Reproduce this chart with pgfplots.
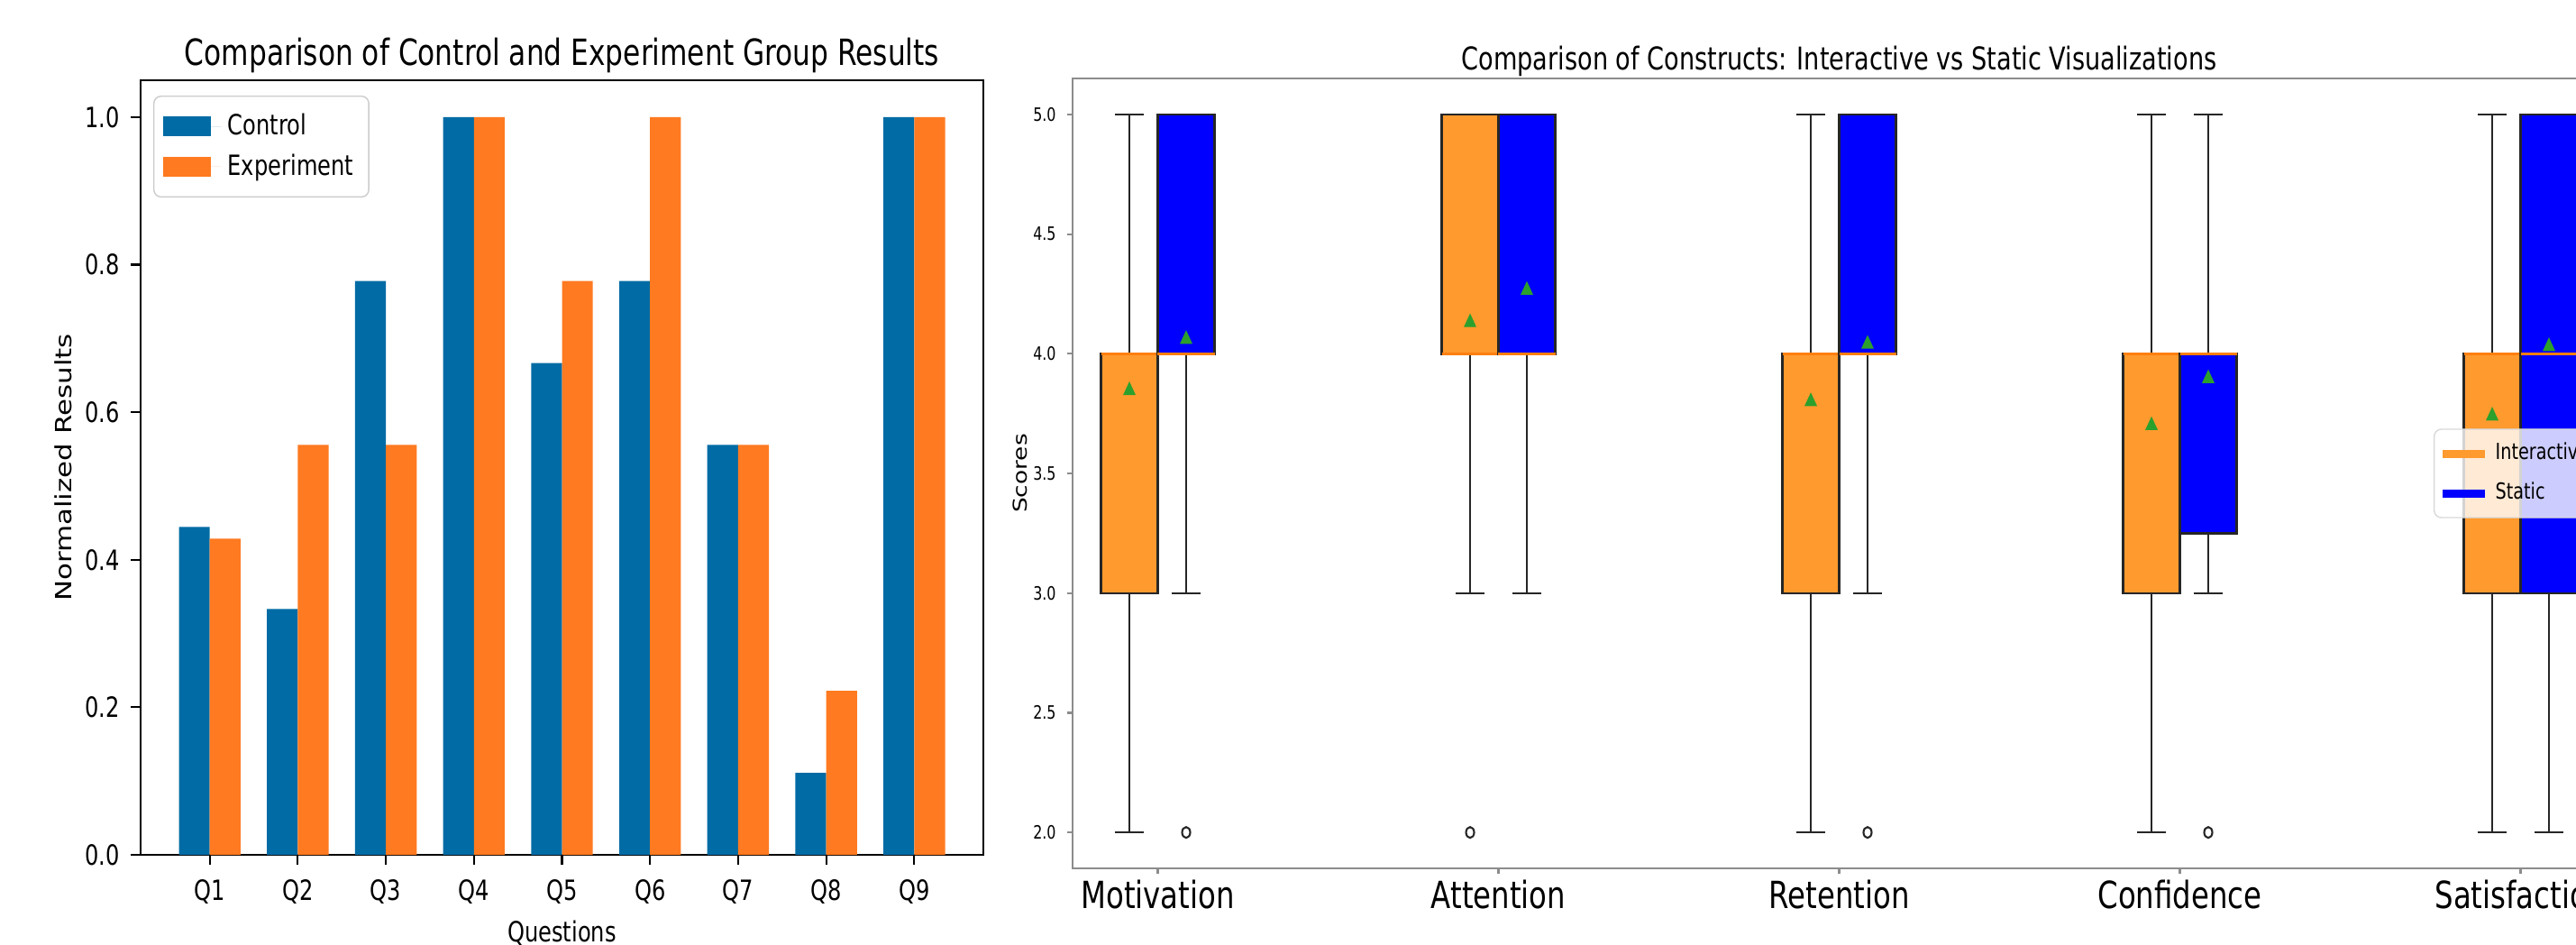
\documentclass[border=0pt]{standalone}
\usepackage{fontspec}
\setmainfont{DejaVu Sans}[FakeStretch=0.78]
\newfontfamily\rotfont{DejaVu Sans}
\usepackage{graphicx}
\usepackage{pgfplots}
\pgfplotsset{compat=1.18}
\usepgfplotslibrary{statistics}
\definecolor{ctrl}{HTML}{006BA4}
\definecolor{expc}{HTML}{FF7A20}
\definecolor{orI}{HTML}{FF9A2E}
\definecolor{blS}{HTML}{0000FF}
\definecolor{meanc}{HTML}{2CA02C}
\definecolor{medc}{HTML}{FF7F0E}
\definecolor{spine}{HTML}{8C8C8C}
\pgfplotsset{
  boxI/.style={draw=black!85, fill=orI, line width=0.7pt, forget plot,
    boxplot/draw direction=y,
    boxplot/every median/.style={draw=medc, line width=0.7pt}},
  boxS/.style={draw=black!85, fill=blS, line width=0.7pt, forget plot,
    boxplot/draw direction=y,
    boxplot/every median/.style={draw=medc, line width=0.7pt}},
  onedec/.style={/pgf/number format/fixed, /pgf/number format/fixed zerofill,
    /pgf/number format/precision=1, /pgf/number format/assume math mode=true},
}
\begin{document}
\begin{tikzpicture}
\useasboundingbox (0,0) rectangle (285.8mm,104.7mm);
\clip (0,0) rectangle (285.8mm,104.7mm);
% ---------------- left bar chart ----------------
\begin{axis}[
  at={(15.6mm,9.9mm)}, anchor=south west, scale only axis,
  width=93.5mm, height=85.9mm,
  xmin=-0.785, xmax=8.785, ymin=0, ymax=1.05,
  ybar, bar width=0.35,
  xtick={0,1,2,3,4,5,6,7,8},
  xticklabels={Q1,Q2,Q3,Q4,Q5,Q6,Q7,Q8,Q9},
  ytick={0,0.2,0.4,0.6,0.8,1.0},
  yticklabel style={onedec},
  xticklabel style={yshift=-0.4mm},
  tick pos=left,
  tick align=outside, major tick length=1.1mm,
  tick style={black, line width=0.6pt},
  axis line style={black, line width=0.8pt},
  ticklabel style={font=\fontsize{8.8}{10}\selectfont},
  title={Comparison of Control and Experiment Group Results},
  every axis title/.style={font=\fontsize{11.4}{13}\selectfont, at={(0.5,1)}, anchor=base, yshift=1.7mm},
  xlabel={Questions},
  xlabel style={font=\fontsize{8.8}{10}\selectfont, yshift=0.6mm},
  ylabel={\rotfont\scalebox{1}[0.8]{Normalized Results}},
  ylabel style={font=\fontsize{8.8}{10}\selectfont, at={(axis description cs:-0.092,0.5)}, anchor=center},
  legend style={at={(0,1)}, anchor=north west, xshift=1.4mm, yshift=-1.7mm,
    draw=black!20, rounded corners=0.8mm, font=\fontsize{8.8}{10}\selectfont,
    row sep=0.2mm, inner xsep=1mm, inner ysep=1.2mm},
  legend cell align=left,
]
\addplot[fill=ctrl, draw=none, bar shift=-0.175,
  legend image code/.code={\fill[ctrl, sharp corners] (0mm,-1.1mm) rectangle (5.3mm,1.1mm); \path (0mm,0mm) -- (6.5mm,0mm);}]
  coordinates {(0,0.4444) (1,0.3333) (2,0.7778) (3,1.0) (4,0.6667) (5,0.7778) (6,0.5556) (7,0.1111) (8,1.0)};
\addlegendentry{Control}
\addplot[fill=expc, draw=none, bar shift=0.175,
  legend image code/.code={\fill[expc, sharp corners] (0mm,-1.1mm) rectangle (5.3mm,1.1mm); \path (0mm,0mm) -- (6.5mm,0mm);}]
  coordinates {(0,0.4286) (1,0.5556) (2,0.5556) (3,1.0) (4,0.7778) (5,1.0) (6,0.5556) (7,0.2222) (8,1.0)};
\addlegendentry{Experiment}
\end{axis}
% ---------------- right box plot ----------------
\begin{axis}[
  at={(119mm,8.4mm)}, anchor=south west, scale only axis,
  width=170.1mm, height=87.6mm,
  xmin=-0.25, xmax=4.25, ymin=1.85, ymax=5.15,
  xtick={0,1,2,3,4},
  xticklabels={Motivation,Attention,Retention,Confidence,Satisfaction},
  ytick={2,2.5,3,3.5,4,4.5,5},
  xticklabel style={font=\fontsize{11.8}{13}\selectfont, yshift=0.5mm},
  yticklabel style={font=\fontsize{5.8}{7}\selectfont, onedec},
  tick pos=left,
  tick align=outside, major tick length=0.6mm,
  tick style={spine, line width=0.6pt},
  axis line style={spine, line width=0.8pt},
  title={Comparison of Constructs: Interactive vs Static Visualizations},
  every axis title/.style={font=\fontsize{9.9}{11}\selectfont, at={(0.5,1)}, anchor=base, yshift=1.0mm},
  ylabel={\rotfont\scalebox{1}[0.8]{Scores}},
  ylabel style={font=\fontsize{7.5}{9}\selectfont, at={(axis description cs:-0.034,0.5)}, anchor=center},
  legend style={at={(0.8877,0.5)}, anchor=west,
    draw=black!15, rounded corners=0.8mm, fill=white, fill opacity=0.8, draw opacity=1, text opacity=1,
    font=\fontsize{7}{8}\selectfont, row sep=0.6mm, inner xsep=0.5mm, inner ysep=0.8mm},
  legend cell align=left,
]
% Motivation
\addplot[boxI, boxplot prepared={draw position=-0.0833, lower whisker=2, lower quartile=3, median=4, upper quartile=4, upper whisker=5, box extend=0.1667, whisker extend=0.0833}] coordinates {};
\addplot[boxS, boxplot prepared={draw position=0.0833, lower whisker=3, lower quartile=4, median=4, upper quartile=5, upper whisker=5, box extend=0.1667, whisker extend=0.0833}] coordinates {};
% Attention
\addplot[boxI, boxplot prepared={draw position=0.9167, lower whisker=3, lower quartile=4, median=4, upper quartile=5, upper whisker=5, box extend=0.1667, whisker extend=0.0833}] coordinates {};
\addplot[boxS, boxplot prepared={draw position=1.0833, lower whisker=3, lower quartile=4, median=4, upper quartile=5, upper whisker=5, box extend=0.1667, whisker extend=0.0833}] coordinates {};
% Retention
\addplot[boxI, boxplot prepared={draw position=1.9167, lower whisker=2, lower quartile=3, median=4, upper quartile=4, upper whisker=5, box extend=0.1667, whisker extend=0.0833}] coordinates {};
\addplot[boxS, boxplot prepared={draw position=2.0833, lower whisker=3, lower quartile=4, median=4, upper quartile=5, upper whisker=5, box extend=0.1667, whisker extend=0.0833}] coordinates {};
% Confidence
\addplot[boxI, boxplot prepared={draw position=2.9167, lower whisker=2, lower quartile=3, median=4, upper quartile=4, upper whisker=5, box extend=0.1667, whisker extend=0.0833}] coordinates {};
\addplot[boxS, boxplot prepared={draw position=3.0833, lower whisker=3, lower quartile=3.25, median=4, upper quartile=4, upper whisker=5, box extend=0.1667, whisker extend=0.0833}] coordinates {};
% Satisfaction
\addplot[boxI, boxplot prepared={draw position=3.9167, lower whisker=2, lower quartile=3, median=4, upper quartile=4, upper whisker=5, box extend=0.1667, whisker extend=0.0833}] coordinates {};
\addplot[boxS, boxplot prepared={draw position=4.0833, lower whisker=2, lower quartile=3, median=4, upper quartile=5, upper whisker=5, box extend=0.1667, whisker extend=0.0833}] coordinates {};
% outliers
\addplot[only marks, mark=o, black!85, forget plot, mark size=0.6mm, mark options={xscale=0.75, line width=0.6pt}]
  coordinates {(0.0833,2) (0.9167,2) (2.0833,2) (3.0833,2)};
% means
\addplot[only marks, mark=triangle*, meanc, forget plot, mark size=0.85mm, mark options={xscale=0.8}]
  coordinates {(-0.0833,3.846) (0.0833,4.06) (0.9167,4.13) (1.0833,4.265) (1.9167,3.80) (2.0833,4.04) (2.9167,3.70) (3.0833,3.896) (3.9167,3.74) (4.0833,4.03)};
\addlegendimage{orI, line width=0.9mm, legend image code/.code={\draw[orI, line width=0.9mm, sharp corners] (0mm,0mm) -- (4.7mm,0mm);}}
\addlegendentry{Interactive}
\addlegendimage{blS, line width=0.9mm, legend image code/.code={\draw[blS, line width=0.9mm, sharp corners] (0mm,0mm) -- (4.7mm,0mm);}}
\addlegendentry{Static}
\end{axis}
\end{tikzpicture}
\end{document}
